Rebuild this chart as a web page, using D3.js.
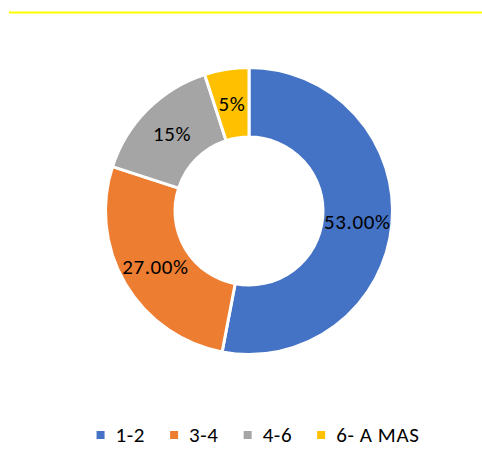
<!DOCTYPE html>
<html>
<head>
<meta charset="utf-8">
<script src="https://cdn.jsdelivr.net/npm/d3@7"></script>
<style>
  body { margin: 0; background: #fff; }
  text { font-family: Calibri, Carlito, "Open Sans", sans-serif; letter-spacing: 0.6px; }
</style>
</head>
<body>
<div id="chart"></div>
<script>
// Data
const categories = ['1-2', '3-4', '4-6', '6- A MAS'];
const values = [53, 27, 15, 5];
const labels = ['53.00%', '27.00%', '15%', '5%'];
const colors = ['#4472C4', '#ED7D31', '#A5A5A5', '#FFC000'];

const width = 482, height = 463;
const cx = 249, cy = 211;
const outerR = 143.5, innerR = 74;

const svg = d3.select('#chart')
    .append('svg')
    .attr('width', width)
    .attr('height', height);

// yellow rule at the top
svg.append('line')
    .attr('x1', 9).attr('x2', 482)
    .attr('y1', 12.5).attr('y2', 12.5)
    .attr('stroke', '#FFFF00')
    .attr('stroke-width', 2);

const pie = d3.pie().sort(null).value(d => d);
const arc = d3.arc().innerRadius(innerR).outerRadius(outerR);

const g = svg.append('g').attr('transform', `translate(${cx},${cy})`);
const arcs = pie(values);

g.selectAll('path')
    .data(arcs)
    .enter()
    .append('path')
    .attr('d', arc)
    .attr('fill', (d, i) => colors[i])
    .attr('stroke', '#fff')
    .attr('stroke-width', 3);

g.selectAll('text')
    .data(arcs)
    .enter()
    .append('text')
    .attr('transform', d => `translate(${arc.centroid(d)})`)
    .attr('text-anchor', 'middle')
    .attr('dy', '0.35em')
    .attr('font-size', 21)
    .attr('fill', '#000')
    .text((d, i) => labels[i]);

// Legend
const legend = svg.append('g');
const items = legend.selectAll('g')
    .data(categories)
    .enter()
    .append('g');

items.append('rect')
    .attr('width', 8).attr('height', 8)
    .attr('y', -4)
    .attr('fill', (d, i) => colors[i]);

items.append('text')
    .attr('x', 19)
    .attr('dy', '0.35em')
    .attr('font-size', 21)
    .attr('fill', '#000')
    .text(d => d);

const gap = 25;
let xPos = 0;
items.each(function() {
    const w = this.getBBox().width;
    d3.select(this).attr('transform', `translate(${xPos},0)`);
    xPos += w + gap;
});
const totalW = xPos - gap;
legend.attr('transform', `translate(${258 - totalW / 2},435)`);
</script>
</body>
</html>
